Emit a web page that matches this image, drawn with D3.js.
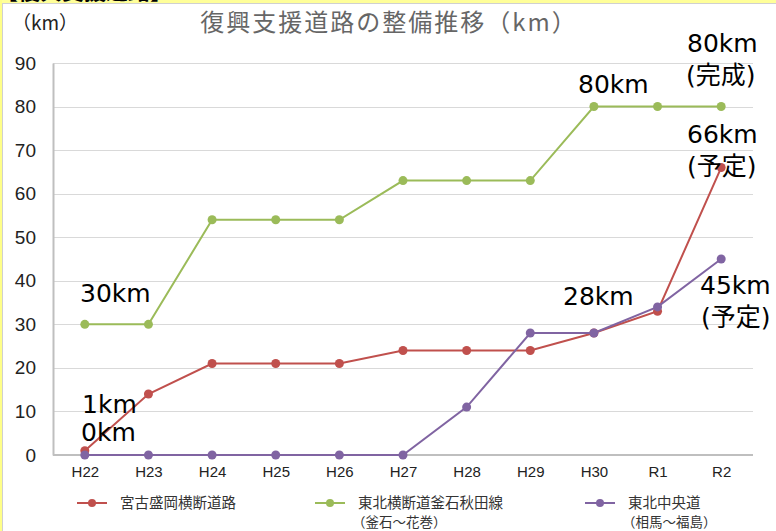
<!DOCTYPE html>
<html>
<head>
<meta charset="utf-8">
<script src="https://cdn.jsdelivr.net/npm/d3@7"></script>
<style>
  body { margin: 0; background: #fff; }
  svg text { font-family: "Noto Sans CJK JP", "Noto Sans", sans-serif; }
  .tick-x { font-family: "Liberation Sans Narrow", "Liberation Sans", sans-serif !important; }
  .note { font-family: "DejaVu Sans", "Noto Sans CJK JP", sans-serif !important; }
</style>
</head>
<body>
<div id="chart"></div>
<script>
'use strict';

// categories (fiscal years)
var years = [ 'H22', 'H23', 'H24', 'H25', 'H26', 'H27', 'H28', 'H29', 'H30', 'R1', 'R2' ];

// series values (km)
var miyakoMorioka = [ 1, 14, 21, 21, 21, 24, 24, 24, 28, 33, 66 ];
var kamaishiAkita = [ 30, 30, 54, 54, 54, 63, 63, 63, 80, 80, 80 ];
var tohokuChuo = [ 0, 0, 0, 0, 0, 0, 11, 28, 28, 34, 45 ];

var yTicks = [ 0, 10, 20, 30, 40, 50, 60, 70, 80, 90 ];

var seriesNames = [ '宮古盛岡横断道路', '東北横断道釜石秋田線', '東北中央道' ];
var seriesSub = [ '', '（釜石～花巻）', '（相馬～福島）' ];

var lineSets = [
  { values: miyakoMorioka, color: '#C0504D' },
  { values: kamaishiAkita, color: '#9BBB59' },
  { values: tohokuChuo, color: '#8064A2' }
];

var width = 776, height = 531;
var margin = { top: 63, left: 53, right: 23, bottom: 76 };

var svg = d3.select( '#chart' )
  .append( 'svg' )
    .attr( 'width', width )
    .attr( 'height', height );

// frame: yellow band on top / left, clipped heading
svg.append( 'rect' ).attr( 'x', 0 ).attr( 'y', 0 ).attr( 'width', width ).attr( 'height', height ).attr( 'fill', '#fff' );
svg.append( 'rect' ).attr( 'x', 0 ).attr( 'y', 0 ).attr( 'width', width ).attr( 'height', 3 ).attr( 'fill', '#FFFF99' );
svg.append( 'text' )
  .attr( 'x', -4 ).attr( 'y', -1 )
  .style( 'font-size', '22px' ).style( 'font-weight', 'bold' )
  .attr( 'fill', '#000' )
  .text( '【復興支援道路】' );
svg.append( 'rect' ).attr( 'x', 0 ).attr( 'y', 0 ).attr( 'width', 2 ).attr( 'height', height ).attr( 'fill', '#FFFF88' );
svg.append( 'line' ).attr( 'x1', 2.5 ).attr( 'x2', 2.5 ).attr( 'y1', 3 ).attr( 'y2', height ).attr( 'stroke', '#d0d0d0' );
svg.append( 'line' ).attr( 'x1', 2 ).attr( 'x2', width ).attr( 'y1', 3.5 ).attr( 'y2', 3.5 ).attr( 'stroke', '#d0d0d0' );

var x = d3.scalePoint()
  .domain( years )
  .range( [ margin.left, width - margin.right ] )
  .padding( 0.5 );

var y = d3.scaleLinear()
  .domain( [ 0, 90 ] )
  .range( [ height - margin.bottom, margin.top ] );

// gridlines
svg.append( 'g' )
  .selectAll( 'line' )
  .data( yTicks.slice( 1 ) )
  .enter().append( 'line' )
    .attr( 'x1', margin.left )
    .attr( 'x2', width - margin.right )
    .attr( 'y1', function( d ) { return Math.round( y( d ) ) + 0.5; } )
    .attr( 'y2', function( d ) { return Math.round( y( d ) ) + 0.5; } )
    .attr( 'stroke', '#D9D9D9' )
    .attr( 'stroke-width', 1 );

// Y axis
var yAxis = svg.append( 'g' )
  .attr( 'transform', 'translate(' + margin.left + ',0)' )
  .call( d3.axisLeft( y ).tickValues( yTicks ).tickSize( 0 ).tickPadding( 17 ) );
yAxis.select( '.domain' ).attr( 'stroke', '#BFBFBF' ).attr( 'stroke-width', 2 );
yAxis.selectAll( 'text' )
  .style( 'font-size', '19px' )
  .style( 'font-family', '"Liberation Sans", sans-serif' )
  .attr( 'fill', '#222' );

// X axis
var xAxis = svg.append( 'g' )
  .attr( 'transform', 'translate(0,' + y( 0 ) + ')' )
  .call( d3.axisBottom( x ).tickSize( 0 ).tickPadding( 11 ) );
xAxis.select( '.domain' ).attr( 'stroke', '#BFBFBF' ).attr( 'stroke-width', 2 )
  .attr( 'd', 'M' + margin.left + ',0H' + ( width - margin.right ) );
xAxis.selectAll( 'text' )
  .attr( 'class', 'tick-x' )
  .style( 'font-size', '15px' )
  .attr( 'fill', '#222' );

// lines
var line = d3.line()
  .x( function( d, i ) { return x( years[i] ); } )
  .y( function( d ) { return y( d ); } );

lineSets.forEach( function( s ) {
  svg.append( 'path' )
    .attr( 'd', line( s.values ) )
    .attr( 'fill', 'none' )
    .attr( 'stroke', s.color )
    .attr( 'stroke-width', 2 );
  svg.append( 'g' )
    .selectAll( 'circle' )
    .data( s.values )
    .enter().append( 'circle' )
      .attr( 'cx', function( d, i ) { return x( years[i] ); } )
      .attr( 'cy', function( d ) { return y( d ); } )
      .attr( 'r', 4.5 )
      .attr( 'fill', s.color );
} );

// titles
svg.append( 'text' )
  .attr( 'x', 12 ).attr( 'y', 30 )
  .style( 'font-size', '19px' )
  .attr( 'fill', '#222' )
  .text( '（km）' );

svg.append( 'text' )
  .attr( 'x', 389 ).attr( 'y', 31 )
  .attr( 'text-anchor', 'middle' )
  .style( 'font-size', '24px' )
  .style( 'letter-spacing', '2px' )
  .attr( 'fill', '#666' )
  .text( '復興支援道路の整備推移（km）' );

// value annotations
var notes = [
  { t: '30km', x: 80, y: 302 },
  { t: '1km', x: 82, y: 413 },
  { t: '0km', x: 81, y: 441 },
  { t: '80km', x: 578, y: 93 },
  { t: '80km', x: 687, y: 52 },
  { t: '(完成)', x: 686, y: 84 },
  { t: '66km', x: 687, y: 143 },
  { t: '(予定)', x: 687, y: 175 },
  { t: '28km', x: 563, y: 305 },
  { t: '45km', x: 700, y: 294 },
  { t: '(予定)', x: 701, y: 326 }
];
svg.append( 'g' )
  .selectAll( 'text' )
  .data( notes )
  .enter().append( 'text' )
    .attr( 'class', 'note' )
    .attr( 'x', function( d ) { return d.x; } )
    .attr( 'y', function( d ) { return d.y; } )
    .style( 'font-size', '25px' )
    .attr( 'fill', '#000' )
    .text( function( d ) { return d.t; } );

// legend
var legendX = [ 77, 315, 585 ];
lineSets.forEach( function( s, i ) {
  var lx = legendX[i], ly = 503;
  svg.append( 'line' )
    .attr( 'x1', lx ).attr( 'x2', lx + 30 )
    .attr( 'y1', ly ).attr( 'y2', ly )
    .attr( 'stroke', s.color ).attr( 'stroke-width', 2 );
  svg.append( 'circle' )
    .attr( 'cx', lx + 15 ).attr( 'cy', ly ).attr( 'r', 4 )
    .attr( 'fill', s.color );
  svg.append( 'text' )
    .attr( 'x', lx + 43 ).attr( 'y', ly + 5 )
    .style( 'font-size', '14.5px' )
    .attr( 'fill', '#333' )
    .text( seriesNames[i] );
  if ( seriesSub[i] ) {
    svg.append( 'text' )
      .attr( 'x', lx + 37 ).attr( 'y', ly + 24 )
      .style( 'font-size', '13.5px' )
      .attr( 'fill', '#333' )
      .text( seriesSub[i] );
  }
} );
</script>
</body>
</html>
